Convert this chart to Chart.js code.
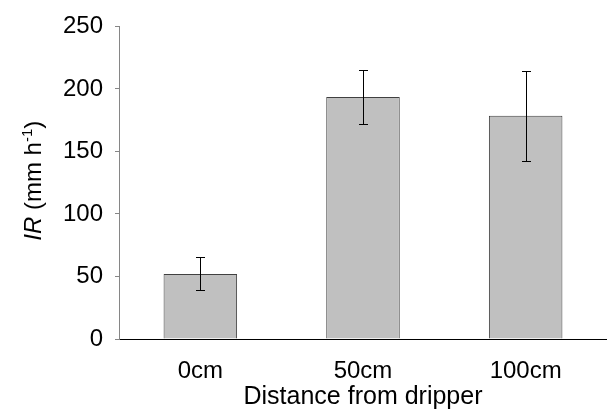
<!DOCTYPE html>
<html>
<head>
<meta charset="utf-8">
<script src="https://cdn.jsdelivr.net/npm/chart.js@4/dist/chart.umd.min.js"></script>
<style>
  html, body { margin: 0; padding: 0; background: #fff; }
  #wrap { width: 607px; height: 412px; }
</style>
</head>
<body>
<div id="wrap"><canvas id="chartIR"></canvas></div>
<script>
// dados
const categorias = ['0cm', '50cm', '100cm'];
const valoresIR = [52, 193.5, 178.5];
const erroInferior = [39.5, 172, 142.5];
const erroSuperior = [65.5, 215.5, 214.5];
const ticksY = [0, 50, 100, 150, 200, 250];

const fonte = 'Liberation Sans, Arial, sans-serif';
const tam = 24;

// barras de erro desenhadas pelas escalas do grafico
const pluginErro = {
  id: 'barrasErro',
  afterDatasetsDraw(chart) {
    const ctx = chart.ctx;
    const x = chart.scales.x;
    const y = chart.scales.y;
    ctx.save();
    ctx.strokeStyle = '#000';
    ctx.lineWidth = 1;
    categorias.forEach((c, i) => {
      const px = Math.round(x.getPixelForValue(i)) + 0.5;
      const yTop = Math.round(y.getPixelForValue(erroSuperior[i])) + 0.5;
      const yBot = Math.round(y.getPixelForValue(erroInferior[i])) + 0.5;
      ctx.beginPath();
      ctx.moveTo(px, yTop); ctx.lineTo(px, yBot);
      ctx.moveTo(px - 4.5, yTop); ctx.lineTo(px + 4.5, yTop);
      ctx.moveTo(px - 4.5, yBot); ctx.lineTo(px + 4.5, yBot);
      ctx.stroke();
    });
    ctx.restore();
  }
};

// titulo do eixo y com italico e sobrescrito
const pluginTituloY = {
  id: 'tituloY',
  afterDraw(chart) {
    const ctx = chart.ctx;
    const area = chart.chartArea;
    const partes = [
      { t: 'IR', f: 'italic ' + tam + 'px ' + fonte, dy: 0 },
      { t: ' (mm h', f: tam + 'px ' + fonte, dy: 0 },
      { t: '-1', f: '15px ' + fonte, dy: -9 },
      { t: ')', f: tam + 'px ' + fonte, dy: 0 }
    ];
    ctx.save();
    let total = 0;
    partes.forEach(p => { ctx.font = p.f; p.w = ctx.measureText(p.t).width; total += p.w; });
    ctx.translate(41, (area.top + area.bottom) / 2 - 2);
    ctx.rotate(-Math.PI / 2);
    ctx.fillStyle = '#000';
    ctx.textBaseline = 'alphabetic';
    let cx = -total / 2;
    partes.forEach(p => {
      ctx.font = p.f;
      ctx.fillText(p.t, cx, p.dy);
      cx += p.w;
    });
    ctx.restore();
  }
};

const dados = {
  labels: categorias,
  datasets: [{
    data: valoresIR,
    backgroundColor: '#c0c0c0',
    borderColor: '#404040',
    borderWidth: 1,
    categoryPercentage: 1,
    barPercentage: 0.452
  }]
};

const config = {
  type: 'bar',
  data: dados,
  options: {
    responsive: true,
    maintainAspectRatio: false,
    animation: false,
    layout: { padding: { top: 19, right: -17, left: 0, bottom: 0 } },
    plugins: { legend: { display: false }, tooltip: { enabled: false } },
    scales: {
      x: {
        grid: { display: false },
        border: { color: '#000', width: 1 },
        ticks: { color: '#000', font: { family: fonte, size: tam }, padding: 10 },
        title: {
          display: true,
          text: 'Distance from dripper',
          color: '#000',
          font: { family: fonte, size: tam + 1 },
          padding: { top: 0, bottom: 0 }
        },
        afterFit(s) { s.height = 73; }
      },
      y: {
        min: 0,
        max: 250,
        afterBuildTicks(s) { s.ticks = ticksY.map(v => ({ value: v })); },
        grid: { drawOnChartArea: false, drawTicks: true, tickLength: 4, color: '#868686' },
        border: { color: '#868686', width: 1 },
        ticks: { color: '#000', font: { family: fonte, size: tam }, padding: 12 },
        afterFit(s) { s.width = 119; }
      }
    }
  },
  plugins: [pluginErro, pluginTituloY]
};

const grafico = new Chart(document.getElementById('chartIR'), config);
</script>
</body>
</html>
